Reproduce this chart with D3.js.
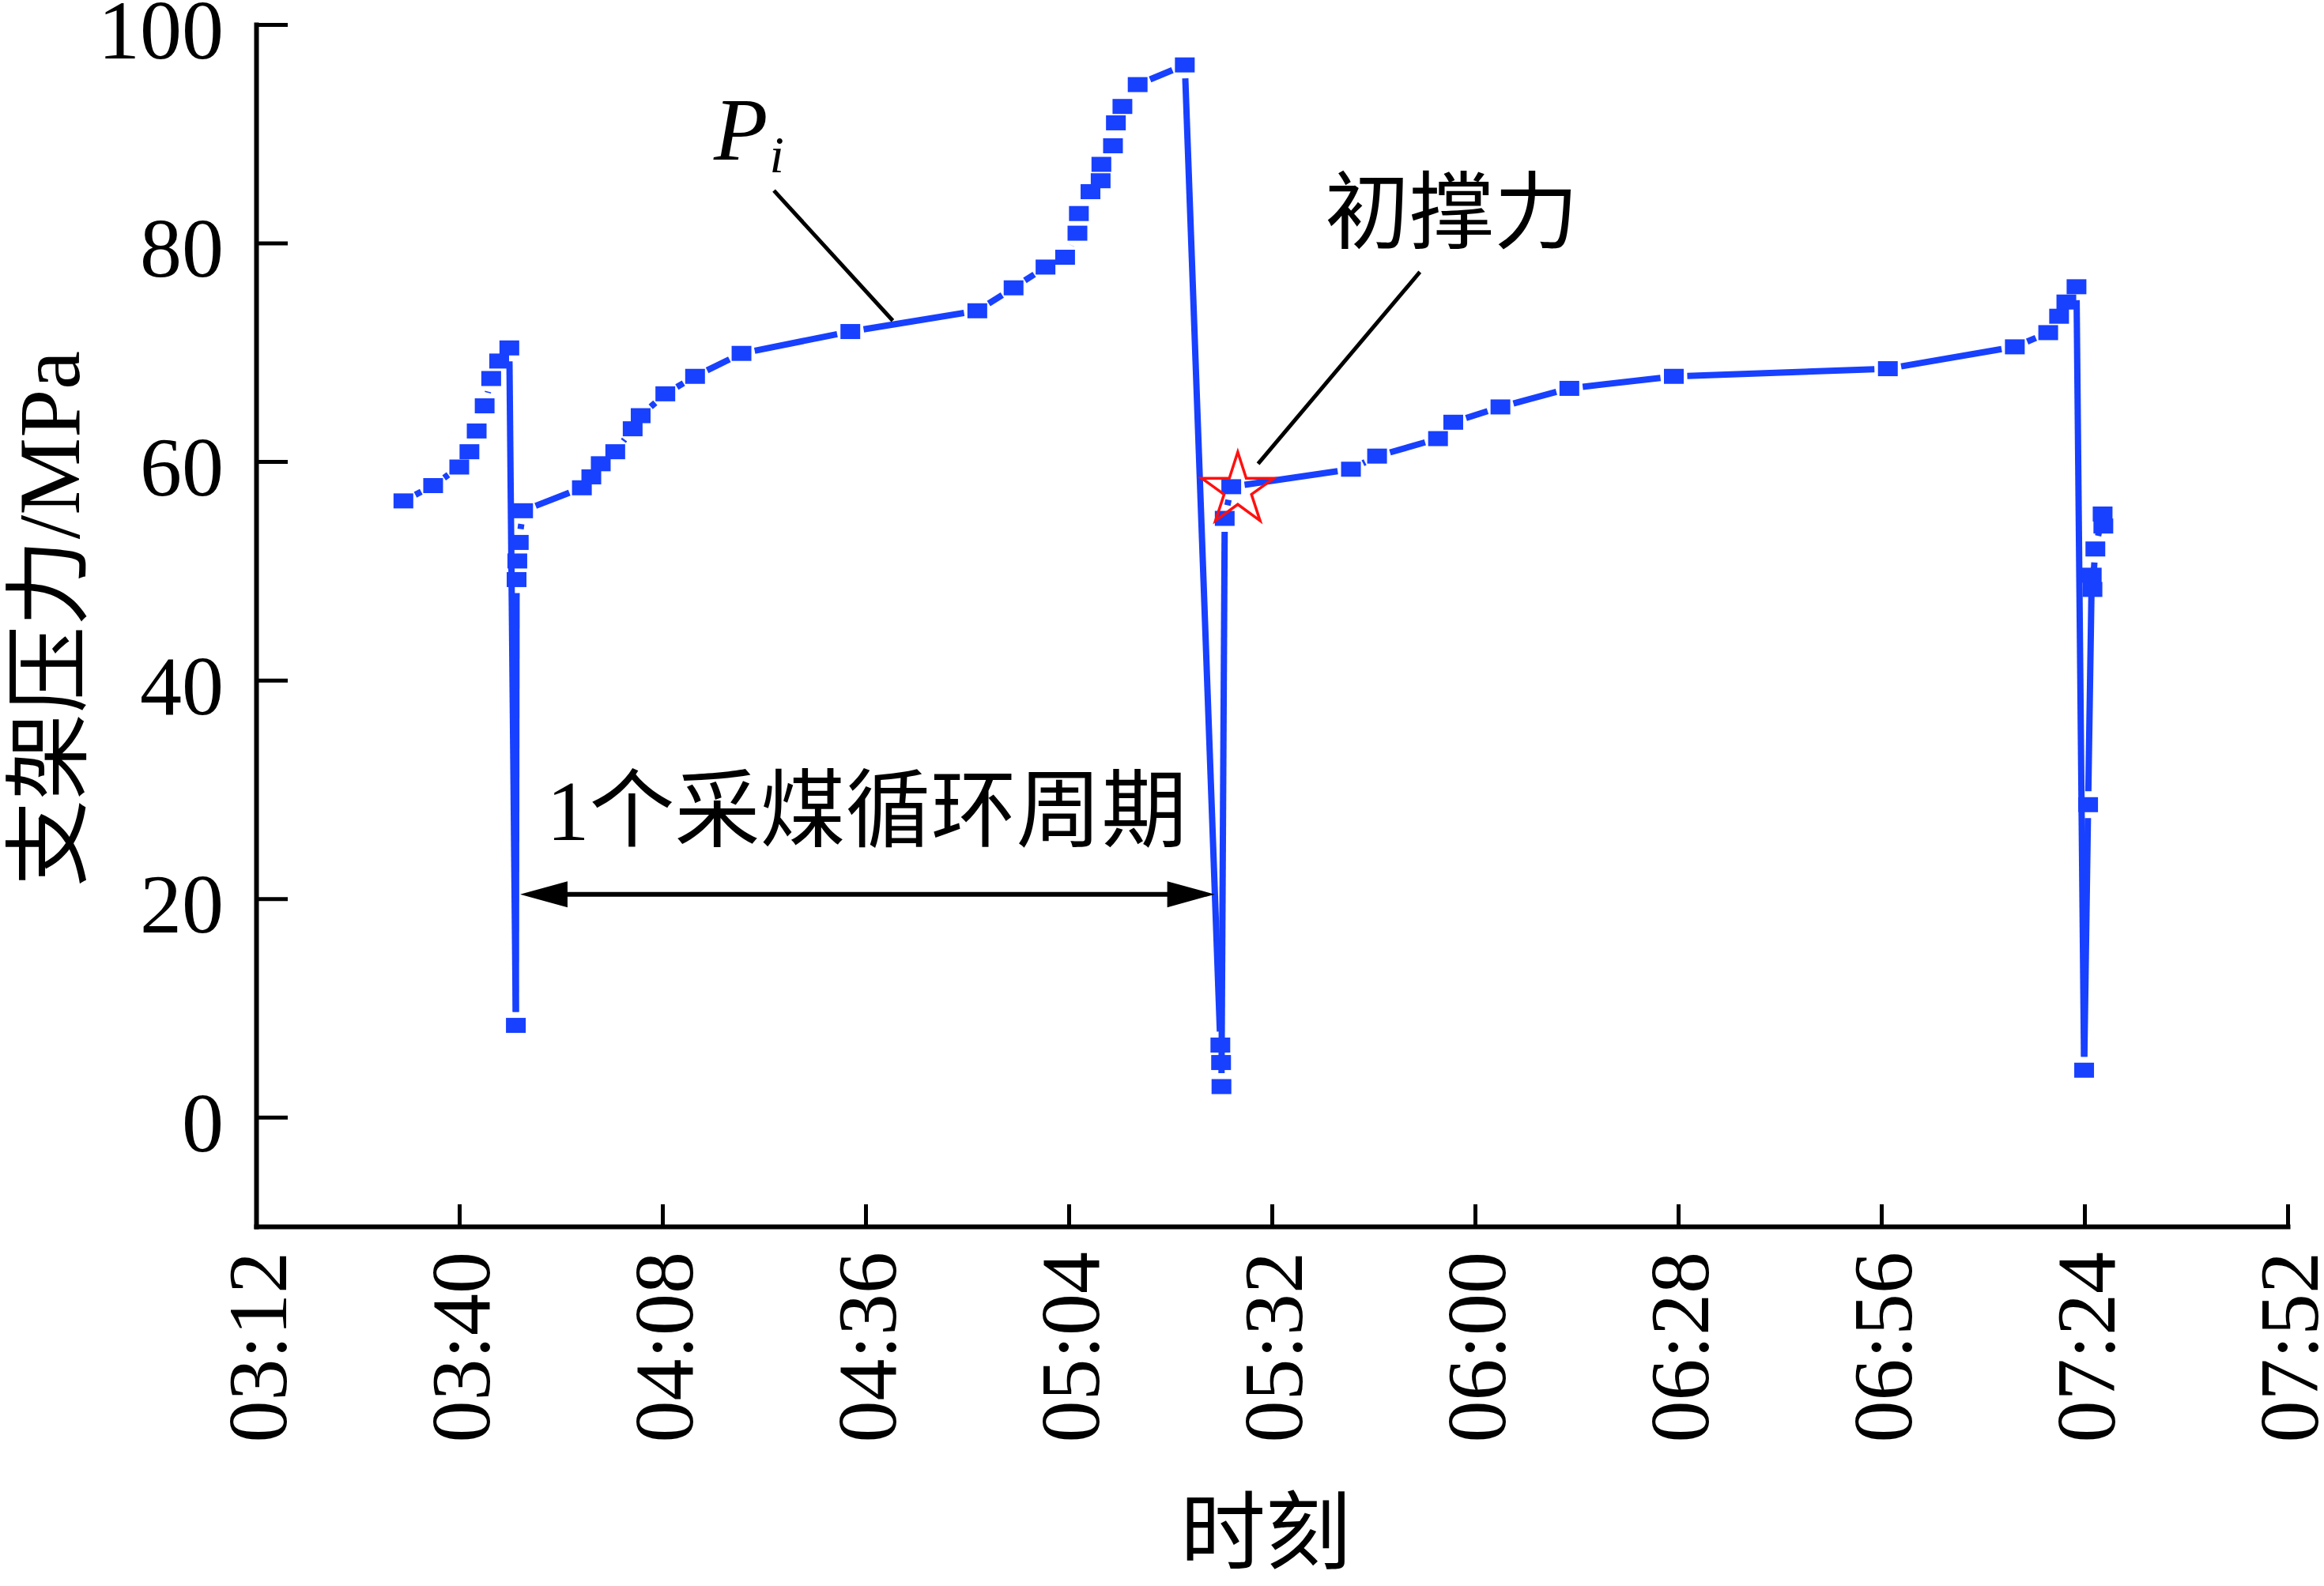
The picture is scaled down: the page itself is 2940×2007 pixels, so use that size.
<!DOCTYPE html>
<html><head><meta charset="utf-8">
<script src="https://cdn.jsdelivr.net/npm/d3@7"></script>
<style>body{margin:0;background:#fff}svg{display:block}</style>
</head><body>
<svg id="chart" width="2940" height="2007"></svg>
<script>
// ---------------- data ----------------
const times = [
"03:32:18","03:36:24","03:40:00","03:41:24","03:42:24","03:43:30","03:44:24","03:45:30","03:46:54",
"03:47:48","03:47:54","03:48:00","03:48:12","03:48:48",
"03:56:54","03:58:12","03:59:30","04:01:30","04:03:54","04:05:00","04:08:24","04:12:30","04:18:54",
"04:33:54","04:51:24","04:56:24","05:00:48","05:03:30","05:05:12","05:05:24","05:07:00","05:08:24","05:08:30","05:10:06","05:10:30","05:11:24","05:13:30","05:20:00",
"05:24:54","05:25:00","05:25:03","05:25:30","05:26:24",
"05:42:54","05:46:30","05:54:54","05:57:00","06:03:30","06:13:00","06:27:24","06:56:54",
"07:14:24","07:19:00","07:20:30","07:21:30","07:22:54",
"07:23:57","07:24:30","07:25:00","07:25:06","07:25:30","07:26:30","07:26:36"
];
const pressures = [
56.4,57.8,59.5,60.9,62.8,65.1,67.6,69.2,70.4,
8.4,49.2,50.9,52.6,55.5,
57.6,58.6,59.8,60.9,63.0,64.2,66.2,67.8,69.9,
71.9,73.8,75.9,77.8,78.7,80.9,82.7,84.7,85.7,87.2,88.9,91.0,92.5,94.5,96.3,
6.6,5.0,2.8,54.8,57.7,
59.3,60.5,62.1,63.6,65.0,66.7,67.8,68.5,
70.5,71.8,73.3,74.6,76.0,
4.3,28.6,49.6,48.3,52.0,55.2,54.1
];
const xTickLabels = ["03:12","03:40","04:08","04:36","05:04","05:32","06:00","06:28","06:56","07:24","07:52"];
const yTickValues = [0,20,40,60,80,100];
const yDomain = [-10, 100];
const initialSupport = [{time:"05:27:18", value:57.4}];
const initialSupportLabel = "初撑力";
const initialSupportLeader = [["05:52:24",77.35],["05:30:06",59.8]];
const initialSupportLabelPos = ["05:56:48",80.1];
const seriesLabelPos = ["04:15:05",87.6];
const seriesLeader = [["04:23:22",84.8],["04:39:45",72.9]];
const cycleSpan = ["03:48:23","05:24:07"];
const cycleLevel = 20.4;
const cycleLabel = "1个采煤循环周期";
const cycleLabelPos = ["04:36:10",25.4];
const xTitle = "时刻";
const yTitle = "支架压力/MPa";

// ---------------- setup ----------------
const W = 2940, H = 2007;
const L = 324, R = 2894, T = 31, B = 1552;
const BLUE = "#1840ff";
const SERIF = "'Liberation Serif','Times New Roman','Noto Sans CJK SC',serif";
const CJK = "'Noto Sans CJK SC','Liberation Serif',sans-serif";

const parse = d3.timeParse("%H:%M:%S");
const parseHM = d3.timeParse("%H:%M");
const svg = d3.select("#chart");

const x = d3.scaleTime()
  .domain([parseHM(xTickLabels[0]), parseHM(xTickLabels[xTickLabels.length-1])])
  .range([L, R]);
const y = d3.scaleLinear().domain(yDomain).range([B, T]);

// ---------------- axes ----------------
const xAxis = d3.axisBottom(x)
  .tickValues(xTickLabels.map(parseHM))
  .tickFormat(d3.timeFormat("%H:%M"))
  .tickSizeInner(-28).tickSizeOuter(0).tickPadding(32);
const gx = svg.append("g").attr("transform", `translate(0,${B})`).call(xAxis);
gx.select(".domain").attr("stroke-width", 6).attr("stroke-linecap","square");
gx.selectAll(".tick line").attr("stroke-width", 5);
gx.selectAll(".tick text")
  .attr("font-family", SERIF).attr("font-size", 106).attr("fill","#000")
  .attr("transform","rotate(-90)")
  .attr("text-anchor","end")
  .attr("x", -32).attr("y", 0).attr("dy","0.35em");

const yAxis = d3.axisLeft(y)
  .tickValues(yTickValues)
  .tickSizeInner(-40).tickSizeOuter(0).tickPadding(41);
const gy = svg.append("g").attr("transform", `translate(${L},0)`).call(yAxis);
gy.select(".domain").attr("stroke-width", 6).attr("stroke-linecap","square");
gy.selectAll(".tick line").attr("stroke-width", 5);
gy.selectAll(".tick text")
  .attr("font-family", SERIF).attr("font-size", 106).attr("fill","#000")
  .attr("dy","0.40em");

// axis titles
svg.append("text")
  .attr("transform", `translate(100,783) rotate(-90)`)
  .attr("text-anchor","middle")
  .attr("font-family", SERIF).attr("font-size", 110)
  .text(yTitle);
svg.append("text")
  .attr("x", (L+R)/2 - 8).attr("y", 1977)
  .attr("text-anchor","middle")
  .attr("font-family", CJK).attr("font-size", 108)
  .text(xTitle);

// ---------------- series ----------------
const pts = times.map((t,i)=>({x:x(parse(t)), y:y(pressures[i])}));
const gap = 17;
const segs = d3.pairs(pts).map(([a,b])=>{
  const dx=b.x-a.x, dy=b.y-a.y, len=Math.hypot(dx,dy);
  if (len <= 2*gap) return null;
  const ux=dx/len, uy=dy/len;
  return {x1:a.x+ux*gap, y1:a.y+uy*gap, x2:b.x-ux*gap, y2:b.y-uy*gap};
}).filter(Boolean);

svg.append("g").selectAll("line").data(segs).join("line")
  .attr("x1",d=>d.x1).attr("y1",d=>d.y1).attr("x2",d=>d.x2).attr("y2",d=>d.y2)
  .attr("stroke",BLUE).attr("stroke-width",8).attr("stroke-linecap","butt");

svg.append("g").selectAll("rect").data(pts).join("rect")
  .attr("x",d=>d.x-12.5).attr("y",d=>d.y-9.5)
  .attr("width",25).attr("height",19)
  .attr("fill",BLUE);

// ---------------- initial support star ----------------
const starR = 48, starr = 18.2;
const starPts = d3.range(10).map(i=>[i*Math.PI/5, i%2===0 ? starR : starr]);
const starPath = d3.lineRadial().curve(d3.curveLinearClosed)(starPts);
svg.append("g").selectAll("path").data(initialSupport).join("path")
  .attr("transform", d=>`translate(${x(parse(d.time))},${y(d.value)})`)
  .attr("d", starPath)
  .attr("fill","none").attr("stroke","#ff1010").attr("stroke-width",3.5)
  .attr("stroke-linejoin","miter");

// ---------------- annotations ----------------
function px(p){ return [x(parse(p[0])), y(p[1])]; }

// P_i
const pPos = px(seriesLabelPos);
const pt = svg.append("text").attr("x",pPos[0]).attr("y",pPos[1])
  .attr("font-family",SERIF).attr("font-style","italic").attr("font-size",112);
pt.append("tspan").text("P");
pt.append("tspan").attr("font-size",66).attr("dy",16).attr("dx",2).text("i");
const sl = seriesLeader.map(px);
svg.append("line").attr("x1",sl[0][0]).attr("y1",sl[0][1]).attr("x2",sl[1][0]).attr("y2",sl[1][1])
  .attr("stroke","#000").attr("stroke-width",5);

// 初撑力
const isPos = px(initialSupportLabelPos);
svg.append("text").attr("x",isPos[0]).attr("y",isPos[1]).attr("text-anchor","middle")
  .attr("font-family",CJK).attr("font-size",107).text(initialSupportLabel);
const il = initialSupportLeader.map(px);
svg.append("line").attr("x1",il[0][0]).attr("y1",il[0][1]).attr("x2",il[1][0]).attr("y2",il[1][1])
  .attr("stroke","#000").attr("stroke-width",5);

// cycle arrow
const ax1 = x(parse(cycleSpan[0])), ax2 = x(parse(cycleSpan[1])), ay = y(cycleLevel);
const headL = 60, headH = 16.5;
svg.append("line").attr("x1",ax1+30).attr("y1",ay).attr("x2",ax2-30).attr("y2",ay)
  .attr("stroke","#000").attr("stroke-width",6);
svg.append("path").attr("d",`M${ax1},${ay}L${ax1+headL},${ay-headH}L${ax1+headL},${ay+headH}Z`).attr("fill","#000");
svg.append("path").attr("d",`M${ax2},${ay}L${ax2-headL},${ay-headH}L${ax2-headL},${ay+headH}Z`).attr("fill","#000");
const cPos = px(cycleLabelPos);
svg.append("text").attr("x",cPos[0]).attr("y",cPos[1]).attr("text-anchor","middle")
  .attr("font-family",SERIF).attr("font-size",108).text(cycleLabel);
</script>
</body></html>
